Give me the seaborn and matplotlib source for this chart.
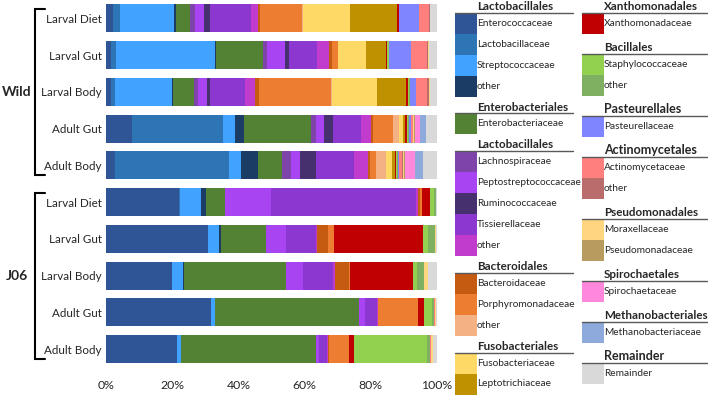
'''
Stacked relative abundance of bacterial families, wild vs J06 samples
'''
import matplotlib
matplotlib.use('Agg')
import matplotlib.pyplot as plt
from matplotlib.patches import Rectangle
import seaborn as sns
import pandas as pnd

# ----------------------
# data
groups  = ['Wild', 'J06']
samples = ['Larval Diet', 'Larval Gut', 'Larval Body', 'Adult Gut', 'Adult Body']

families = ['Enterococcaceae', 'Lactobacillaceae', 'Streptococcaceae', 'Lactobacillales other',
            'Enterobacteriaceae',
            'Lachnospiraceae', 'Peptostreptococcaceae', 'Ruminococcaceae', 'Tissierellaceae', 'Clostridia other',
            'Bacteroidaceae', 'Porphyromonadaceae', 'Bacteroidales other',
            'Fusobacteriaceae', 'Leptotrichiaceae',
            'Xanthomonadaceae',
            'Staphylococcaceae', 'Bacillales other',
            'Pasteurellaceae',
            'Actinomycetaceae', 'Actinomycetales other',
            'Moraxellaceae', 'Pseudomonadaceae',
            'Spirochaetaceae',
            'Methanobacteriaceae',
            'Remainder']

family_labels = ['Enterococcaceae', 'Lactobacillaceae', 'Streptococcaceae', 'other',
                 'Enterobacteriaceae',
                 'Lachnospiraceae', 'Peptostreptococcaceae', 'Ruminococcaceae', 'Tissierellaceae', 'other',
                 'Bacteroidaceae', 'Porphyromonadaceae', 'other',
                 'Fusobacteriaceae', 'Leptotrichiaceae',
                 'Xanthomonadaceae',
                 'Staphylococcaceae', 'other',
                 'Pasteurellaceae',
                 'Actinomycetaceae', 'other',
                 'Moraxellaceae', 'Pseudomonadaceae',
                 'Spirochaetaceae',
                 'Methanobacteriaceae',
                 'Remainder']

family_colors = ['#2F5597', '#2E75B6', '#41A3FF', '#1B3C64',
                 '#548235',
                 '#7E44AA', '#A844F2', '#46306E', '#8C38D0', '#C13BCC',
                 '#C55A11', '#ED7D31', '#F4B183',
                 '#FFD966', '#BF9000',
                 '#C00000',
                 '#92D050', '#7FAF60',
                 '#7F84FF',
                 '#FF7F7F', '#BA6B6B',
                 '#FFD57F', '#B89B5E',
                 '#FF88DC',
                 '#8EA9DB',
                 '#D9D9D9']

# legend headers: (title, number of families, big title)
legend_col1 = [('Lactobacillales', 4, False), ('Enterobacteriales', 1, False),
               ('Lactobacillales', 5, False), ('Bacteroidales', 3, False),
               ('Fusobacteriales', 2, False)]
legend_col2 = [('Xanthomonadales', 1, False), ('Bacillales', 2, False),
               ('Pasteurellales', 1, True), ('Actinomycetales', 2, True),
               ('Pseudomonadales', 2, False), ('Spirochaetales', 1, False),
               ('Methanobacteriales', 1, False), ('Remainder', 1, True)]

# percentages per sample, in the order of `families`
wild_larval_diet = [2.2, 2.0, 16.4, 0.5, 4.2, 1.7, 2.5, 1.8, 12.4, 2.3, 0.6, 12.5, 0.4, 14.1, 14.3,
                    0.5, 0, 0, 6.3, 2.8, 0.3, 0, 0, 0, 0, 2.2]
wild_larval_gut  = [1.5, 1.5, 29.9, 0.3, 14.3, 1.2, 5.4, 1.2, 8.5, 3.6, 0.8, 1.8, 0.2, 8.5, 6.0,
                    0.3, 0.5, 0, 6.6, 4.9, 0.4, 0.2, 0, 0, 0, 2.4]
wild_larval_body = [1.5, 1.1, 17.2, 0.3, 6.6, 1.1, 2.6, 1.1, 10.5, 3.0, 1.3, 21.7, 0.3, 13.5, 8.9,
                    0.4, 0.3, 0.4, 1.9, 3.4, 0.4, 0.4, 0, 0, 0, 2.1]
wild_adult_gut   = [7.9, 27.3, 3.8, 2.7, 20.2, 1.6, 2.3, 2.7, 8.6, 3.0, 0.5, 6.1, 1.8, 1.3, 0.6,
                    0.6, 0.3, 0.3, 0.4, 0.6, 0.3, 0.3, 0.3, 1.5, 1.8, 3.2]
wild_adult_body  = [2.7, 34.5, 3.5, 5.2, 7.2, 2.9, 2.5, 4.9, 11.5, 4.3, 0.7, 1.7, 3.0, 1.9, 0.7,
                    0.4, 0.3, 0.3, 0.4, 0.7, 0.4, 0.3, 0.2, 3.2, 2.5, 4.1]
j06_larval_diet  = [22.2, 0.2, 6.3, 1.5, 5.8, 0, 13.9, 0, 43.9, 0.6, 0.4, 0.6, 0, 0, 0,
                    2.4, 1.2, 0.6, 0, 0, 0, 0, 0, 0, 0, 0.4]
j06_larval_gut   = [30.7, 0, 3.4, 0.6, 13.5, 0, 6.1, 0, 9.1, 0.4, 3.4, 1.7, 0, 0, 0,
                    26.9, 1.4, 2.1, 0, 0, 0, 0.3, 0, 0, 0, 0.4]
j06_larval_body  = [19.8, 0, 3.4, 0.3, 30.8, 0, 5.1, 0, 9.1, 0.8, 4.0, 0.4, 0, 0, 0,
                    19.2, 1.2, 2.0, 0, 0, 0, 1.3, 0, 0, 0, 2.6]
j06_adult_gut    = [31.8, 0, 1.2, 0, 43.5, 0, 1.8, 0, 3.7, 0.3, 0, 11.9, 0, 0, 0,
                    1.8, 2.6, 0.5, 0, 0.3, 0, 0.3, 0, 0, 0, 0.3]
j06_adult_body   = [21.6, 0, 1.0, 0, 40.9, 0, 1.0, 0, 2.2, 0.4, 0.3, 6.0, 0, 0, 0,
                    1.5, 22.2, 0.8, 0, 0.4, 0, 0.4, 0, 0, 0, 1.3]

x_ticks = [0, 20, 40, 60, 80, 100]
# ----------------------
def _make_frame() -> pnd.DataFrame:
    rows = [wild_larval_diet, wild_larval_gut, wild_larval_body, wild_adult_gut, wild_adult_body,
            j06_larval_diet, j06_larval_gut, j06_larval_body, j06_adult_gut, j06_adult_body]
    ids  = [f'{grp} {smp}' for grp in groups for smp in samples]
    df   = pnd.DataFrame(rows, columns=families)
    df   = df.cumsum(axis=1)
    df['sample'] = ids
    return df
# ----------------------
def _plot_bars(fig, df : pnd.DataFrame) -> None:
    ax = fig.add_axes([106/708, 1 - 367.4/397, 331/708, 367.4/397])
    # draw cumulative bars from widest to narrowest, so each layer shows its own segment
    for name, color in zip(families[::-1], family_colors[::-1]):
        sns.barplot(data=df, x=name, y='sample', order=list(df['sample']), color=color,
                    saturation=1, width=0.76, errorbar=None, linewidth=0, orient='h', ax=ax)

    ax.set_xlim(0, 100)
    ax.set_ylim(9.5, -0.5)
    ax.set_xticks(x_ticks)
    ax.set_xticklabels([f'{val}%' for val in x_ticks], fontsize=8.8)
    ax.set_yticks(range(10))
    ax.set_yticklabels(samples * 2, fontsize=8.4)
    ax.tick_params(axis='x', length=0, pad=9)
    ax.tick_params(axis='y', length=0, pad=3)
    ax.set_xlabel('')
    ax.set_ylabel('')
    sns.despine(ax=ax, left=True, bottom=True)
# ----------------------
def _plot_decorations(lax) -> None:
    # group brackets
    for grp, top, bot in [('Wild', 9.3, 175), ('J06', 192.7, 359)]:
        lax.plot([45, 35, 35, 45], [top, top, bot, bot], color='black', lw=1.5, solid_joinstyle='miter')
        lax.text(17, (top + bot) / 2, grp, ha='center', va='center', fontsize=10, fontweight='bold')
# ----------------------
def _plot_legend_column(lax, spec, x_patch, x_end, gap, start_index) -> None:
    y_line = 12.7
    idx    = start_index
    for pos, (title, count, big) in enumerate(spec):
        if pos > 0:
            y_line += gap
        lax.text(x_patch + 22, y_line - 6.3, title, ha='left', va='center',
                 fontsize=9.0 if big else 8.4, fontweight='bold')
        lax.plot([x_patch, x_end], [y_line, y_line], color='#595959', lw=1.0)
        y_cur = y_line
        for _ in range(count):
            lax.add_patch(Rectangle((x_patch, y_cur), 21.5, 21, facecolor=family_colors[idx], lw=0))
            lax.text(x_patch + 22, y_cur + 10.5, family_labels[idx], ha='left', va='center', fontsize=7.3)
            y_cur += 21
            idx   += 1
        y_line = y_cur
# ----------------------
def main():
    sns.set_style('white')
    plt.rcParams['font.family'] = ['Lato', 'DejaVu Sans']

    fig = plt.figure(figsize=(7.08, 3.97), dpi=100)
    df  = _make_frame()
    _plot_bars(fig, df)

    lax = fig.add_axes([0, 0, 1, 1])
    lax.set_xlim(0, 708)
    lax.set_ylim(397, 0)
    lax.axis('off')

    _plot_decorations(lax)
    n_col1 = sum(cnt for _, cnt, _ in legend_col1)
    _plot_legend_column(lax, legend_col1, 455, 573, 16.7, 0)
    _plot_legend_column(lax, legend_col2, 582, 707, 20.0, n_col1)

    fig.savefig('out.png', dpi=100)
    plt.close(fig)
# ----------------------
if __name__ == '__main__':
    main()
